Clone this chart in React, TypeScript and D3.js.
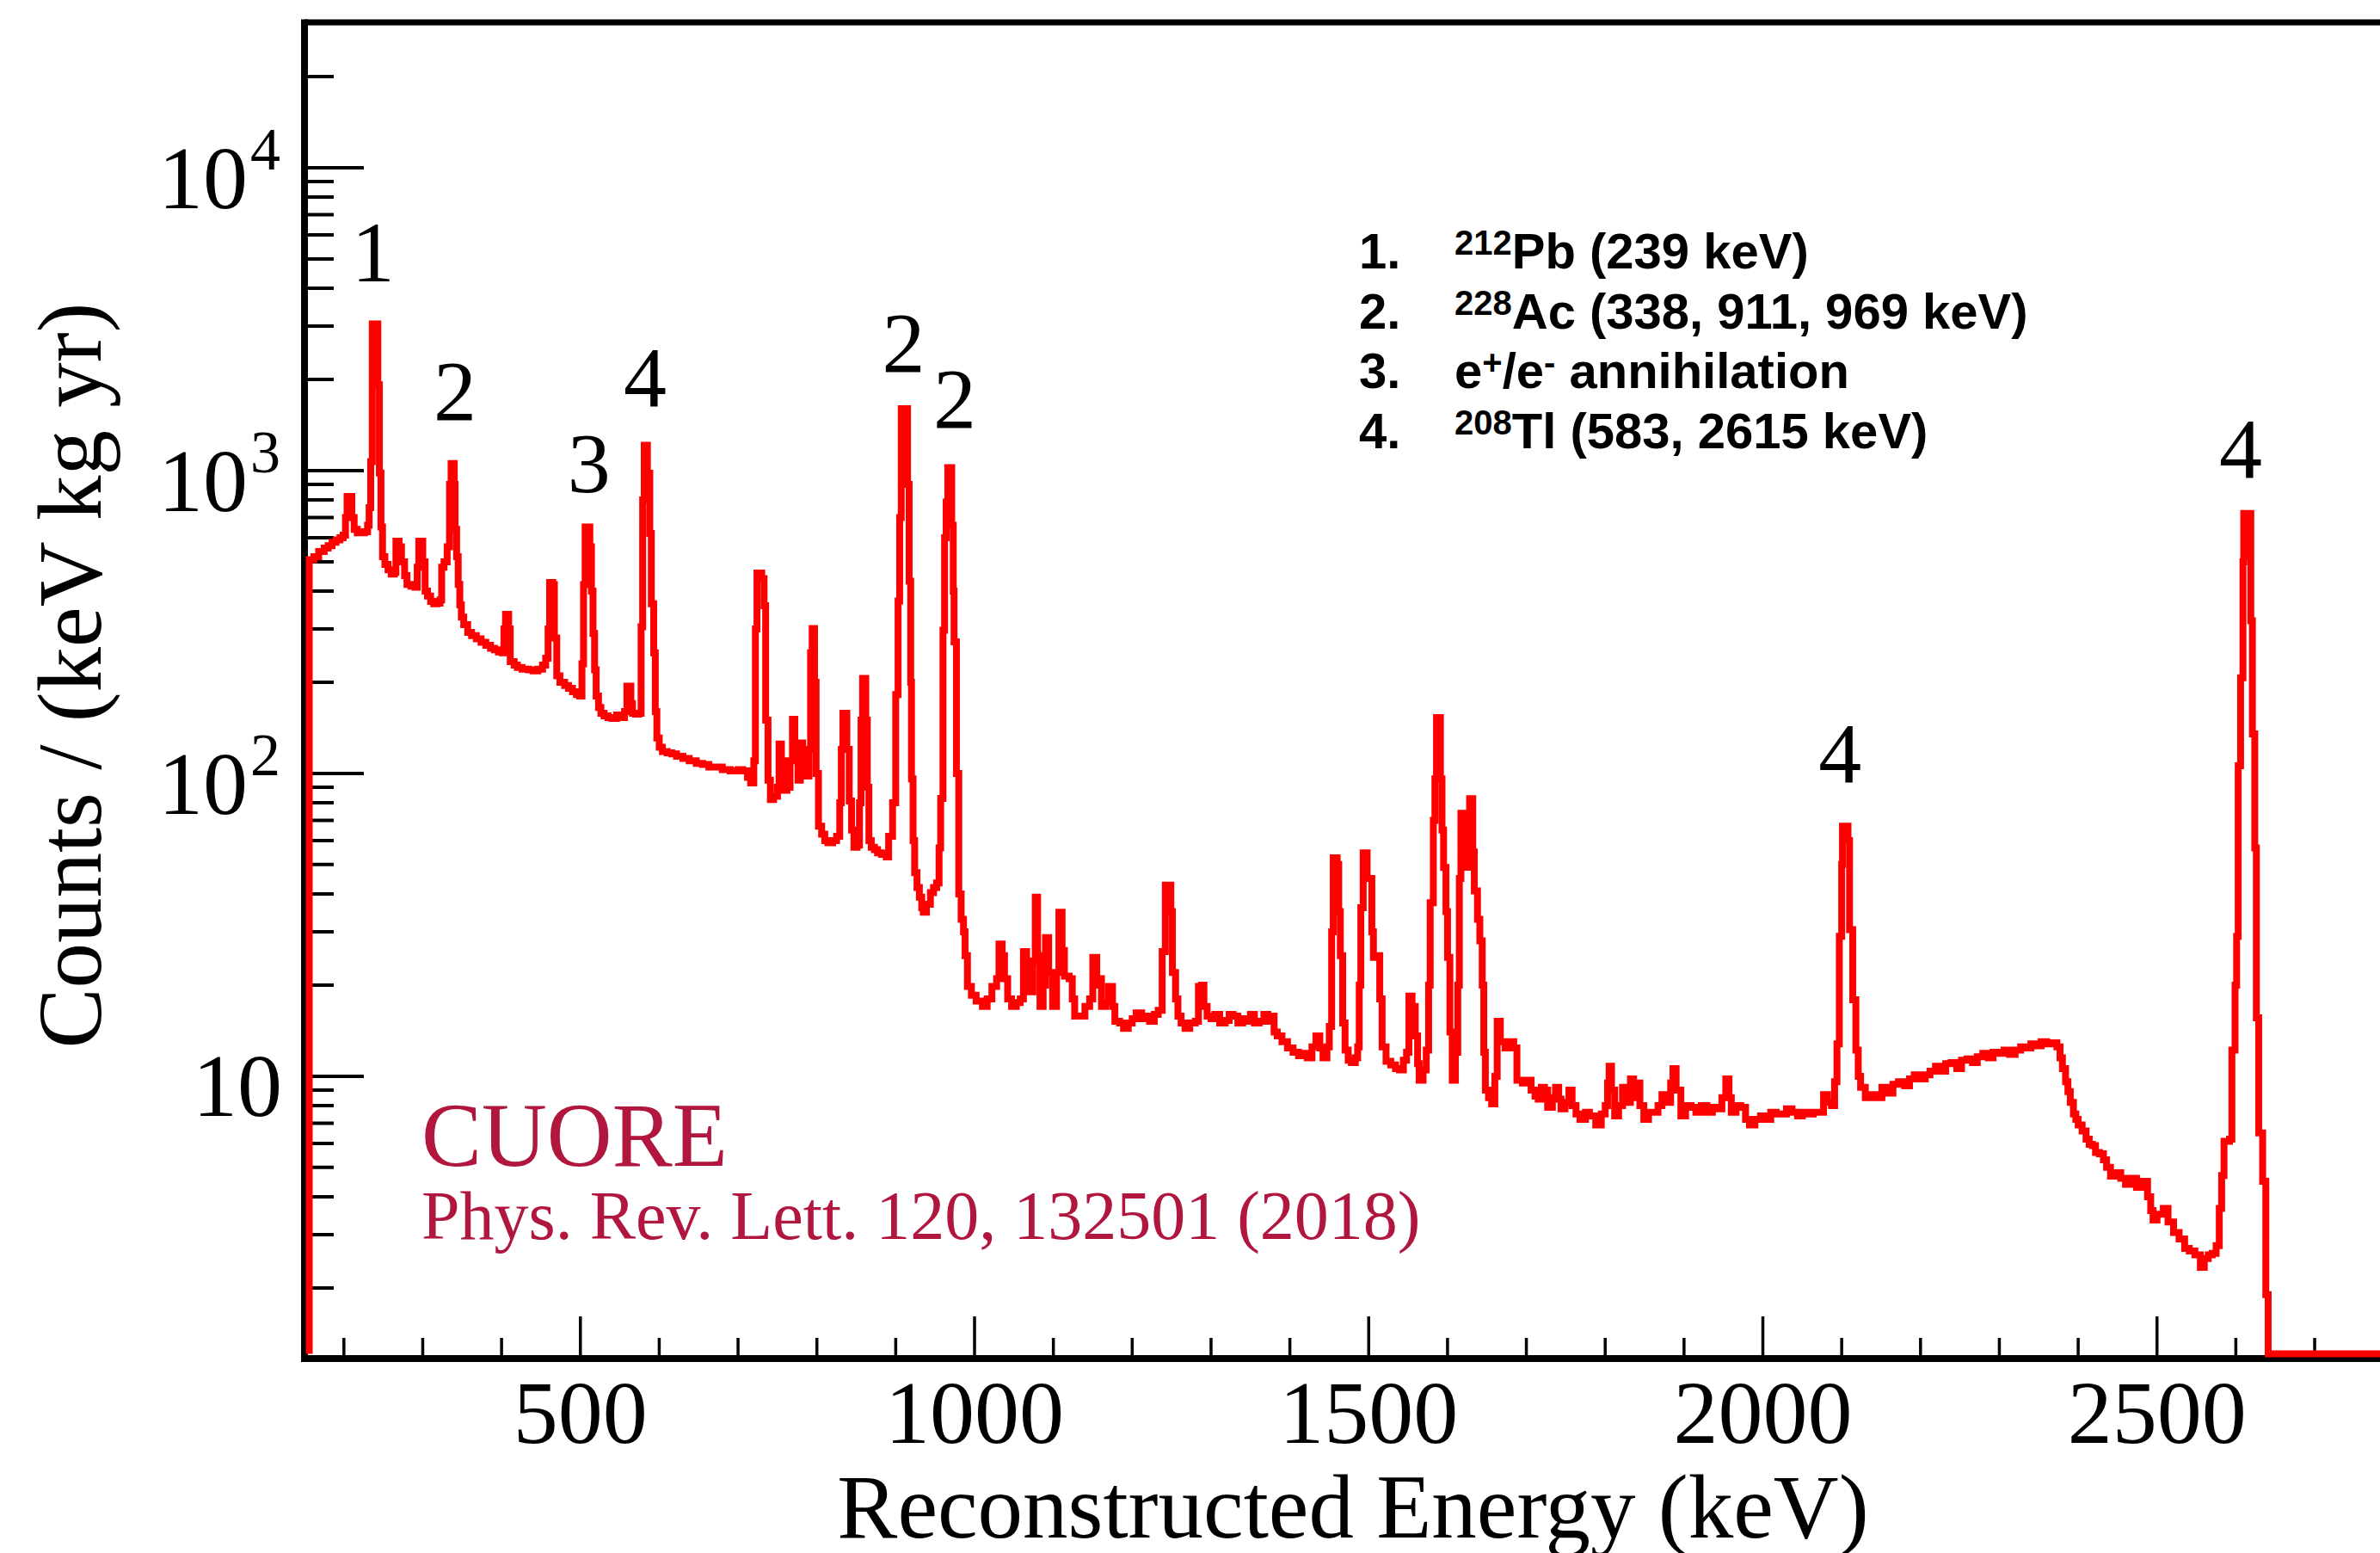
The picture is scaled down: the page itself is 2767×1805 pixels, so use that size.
import React from 'react';
import * as d3 from 'd3';

// Spectrum: bin low edge (keV) and counts/(keV kg yr)
const spectrumEnergy = [
  156, 162, 168, 175, 180, 185, 190, 195, 199, 202, 204, 210, 213, 217, 226, 230, 232, 234, 236, 243, 245, 247, 249, 252, 256, 260, 264, 266, 270, 273, 277, 280, 285, 290, 293, 295, 300, 303, 306, 310, 314, 318, 322, 324, 327, 331, 334, 336, 340, 341, 343, 345, 347, 349, 352, 357, 362, 368, 374, 380, 386, 391, 396, 401, 403, 405, 409, 411, 416, 420, 426, 434, 440, 446, 452, 456, 459, 461, 465, 467, 470, 474, 480, 485, 490, 495, 499, 502, 504, 506, 512, 514, 516, 518, 520, 523, 526, 530, 535, 540, 546, 552, 556, 559, 564, 566, 570, 574, 577, 579, 581, 585, 588, 590, 593, 595, 597, 600, 604, 610, 616, 622, 630, 638, 647, 655, 663, 670, 680, 690, 700, 706, 712, 716, 720, 722, 724, 730, 733, 735, 738, 741, 745, 750, 752, 755, 758, 762, 766, 769, 772, 776, 779, 782, 786, 790, 792, 794, 797, 799, 802, 806, 810, 814, 820, 825, 829, 831, 833, 838, 841, 844, 847, 851, 854, 856, 858, 862, 864, 866, 869, 873, 877, 882, 888, 891, 896, 900, 903, 905, 907, 915, 917, 919, 920, 922, 924, 927, 930, 933, 935, 939, 944, 948, 952, 955, 957, 960, 962, 964, 966, 971, 973, 974, 977, 980, 983, 986, 988, 991, 996,
  1002, 1010, 1016, 1022, 1028, 1031, 1035, 1038, 1042, 1047, 1053, 1058, 1062, 1066, 1070, 1074, 1077, 1080, 1083, 1087, 1090, 1094, 1099, 1104, 1107, 1111, 1114, 1120, 1124, 1127, 1134, 1140, 1146, 1150, 1155, 1158, 1161, 1166, 1170, 1175, 1178, 1184, 1189, 1195, 1200, 1205, 1212, 1217, 1222, 1228, 1233, 1238, 1242, 1249, 1251, 1255, 1258, 1262, 1267, 1273, 1280, 1284, 1288, 1291, 1295, 1300, 1305, 1311, 1318, 1323, 1328, 1334, 1340, 1345, 1350, 1355, 1361, 1367, 1372, 1375, 1380, 1384, 1390, 1397, 1404, 1411, 1417, 1422, 1428, 1433, 1438, 1442, 1447, 1450, 1453, 1455, 1460, 1462, 1464, 1467, 1470, 1474, 1478, 1483, 1486, 1488, 1490, 1493, 1498, 1501, 1504, 1506, 1511, 1514, 1517, 1522, 1528, 1534, 1539, 1544, 1548, 1551, 1555, 1559, 1562, 1564, 1569, 1573, 1576, 1578, 1582, 1584, 1586, 1591, 1593, 1595, 1598, 1600, 1603, 1606, 1610, 1613, 1615, 1617, 1621, 1623, 1626, 1628, 1632, 1634, 1638, 1641, 1644, 1646, 1648, 1652, 1656, 1660, 1663, 1667, 1673, 1679, 1684, 1688, 1695, 1701, 1706, 1711, 1715, 1719, 1723,
  1727, 1733, 1737, 1741, 1744, 1749, 1754, 1758, 1763, 1768, 1775, 1780, 1788, 1795, 1800, 1803, 1805, 1808, 1812, 1817, 1822, 1826, 1832, 1836, 1840, 1844, 1849, 1855, 1862, 1867, 1872, 1878, 1883, 1886, 1890, 1896, 1902, 1909, 1915, 1922, 1929, 1936, 1942, 1948, 1953, 1957, 1960, 1966, 1972, 1978, 1983, 1990, 1997, 2004, 2010, 2017, 2024, 2030, 2037, 2044, 2050, 2057, 2064, 2071, 2077, 2082, 2087, 2091, 2094, 2097, 2100, 2101, 2108, 2110, 2114, 2118, 2121, 2124, 2130, 2138, 2144, 2151, 2158, 2165, 2172, 2180, 2186, 2192, 2200, 2206, 2212, 2219, 2226, 2232, 2239, 2246, 2252, 2259, 2266, 2272, 2279, 2286, 2292, 2299, 2306, 2313, 2320, 2327, 2333, 2340, 2347, 2353, 2360, 2367, 2373, 2377, 2380, 2384, 2387, 2390, 2394, 2397, 2400, 2405, 2410, 2414, 2418, 2422, 2427, 2432, 2436, 2441, 2447, 2454, 2460, 2468, 2474, 2481, 2488, 2492, 2495, 2500, 2508, 2514, 2521, 2528, 2535, 2541, 2548, 2555, 2560, 2565, 2570, 2575, 2579, 2582, 2585, 2592, 2595, 2599, 2601, 2603, 2606, 2609, 2610, 2614, 2616, 2619, 2621, 2624, 2626, 2629, 2634, 2638, 2641, 2800,
];
const spectrumCounts = [
  508, 520, 540, 555, 565, 580, 590, 600, 612, 700, 822, 700, 640, 623, 628, 660, 755, 1070, 3050, 1920, 982, 651, 520, 490, 470, 455, 462, 585, 560, 500, 450, 421, 415, 412, 480, 585, 500, 400, 385, 370, 363, 365, 374, 480, 500, 560, 900, 1055, 900, 640, 520, 421, 360, 328, 310, 292, 285, 278, 271, 265, 259, 256, 252, 250, 300, 335, 300, 234, 228, 224, 221, 220, 218, 221, 228, 240, 300, 427, 420, 280, 210, 200, 195, 191, 186, 182, 180, 230, 420, 651, 560, 400, 290, 220, 180, 165, 158, 155, 153, 152, 156, 153, 160, 194, 170, 158, 157, 158, 305, 800, 1213, 980, 620, 363, 250, 160, 131, 122, 118, 117, 116, 114, 112, 110, 108, 107, 105, 105, 103, 102, 103, 102, 97, 93, 110, 300, 459, 440, 358, 150, 95, 82, 84, 90, 125, 110, 88, 90, 110, 151, 110, 95, 126, 105, 98, 120, 250, 301, 200, 100, 67, 63, 60, 59, 60, 62, 80, 120, 158, 120, 81, 65, 57, 58, 80, 150, 206, 150, 90, 60, 57, 56, 54.7, 54, 53, 62, 80, 182, 371, 700, 1600, 900, 431, 200, 96, 60, 47, 42, 39, 36, 34.8, 37, 40.4, 42, 43.5, 56.8, 82.7, 297, 600, 787, 1023, 660, 400, 272, 100, 40, 33, 30, 25, 19.8, 18.5,
  17.7, 17, 18, 19.8, 21, 27.3, 25, 21, 18, 17, 17.5, 18, 25.8, 20, 19, 24, 39, 25, 17, 20, 28.7, 22, 17, 22, 34.8, 26, 21.4, 21, 18, 15.8, 15.8, 17, 18, 24.7, 20, 21, 17, 17.5, 19.8, 17, 15.2, 15, 14.4, 15, 15.5, 16.2, 15.5, 15.8, 15.2, 16, 16.5, 25.8, 42.8, 35, 22, 18, 15.8, 15, 14.4, 15, 15.2, 19.8, 20, 17, 15.8, 15.5, 16, 15, 15.3, 16, 15.8, 15, 15.5, 15.2, 16, 15, 15.2, 16, 15.2, 15.8, 14, 13.6, 13, 12.4, 12, 11.7, 11.9, 11.5, 12.5, 13.6, 12.4, 11.5, 12.5, 14.6, 30, 52.6, 50, 35, 25, 15, 12.2, 11.3, 11.1, 11.5, 12.5, 20, 36, 54.7, 45, 45, 30, 24.7, 25, 18, 12.5, 11.2, 10.9, 10.6, 10.5, 11.3, 12, 18.4, 17, 13.6, 11, 9.7, 10.5, 12.2, 20, 37.4, 70, 96, 153, 96, 65, 48.9, 35, 24.7, 14, 9.7, 12, 20, 45, 73.8, 55, 49, 70, 82.6, 55, 40.9, 33, 28, 20, 12, 9, 8.5, 8.1, 10, 15.2, 13, 12.4, 13, 12.4, 9.7, 9.5, 9.7, 9, 8.6, 8.4, 9.2, 9,
  7.9, 8.5, 9.2, 8.4, 7.8, 8.2, 9.0, 8, 7.5, 7.2, 7.6, 7.4, 6.9, 7.5, 8, 9.5, 10.8, 9, 7.4, 8, 9.2, 8.2, 9.8, 8.5, 9.5, 8, 7.2, 7.6, 7.6, 8, 8.7, 8.2, 9.5, 10.6, 9, 7.4, 8, 7.9, 7.6, 8, 7.6, 7.9, 7.8, 8.5, 9.8, 8.5, 7.6, 8, 7.9, 7.2, 6.9, 7.2, 7.4, 7.2, 7.6, 7.5, 7.5, 7.8, 7.6, 7.4, 7.6, 7.5, 7.6, 7.6, 8.7, 8.2, 8, 9.6, 12.8, 29, 50, 67, 60, 30.5, 17.9, 12.2, 10, 9.2, 8.5, 8.7, 8.5, 9.2, 8.8, 9.4, 9.6, 9.3, 9.8, 10.1, 9.8, 10.1, 10.4, 10.8, 10.4, 11, 11.1, 10.6, 11.3, 11.4, 11.1, 11.6, 11.9, 11.5, 12, 11.9, 12.2, 11.8, 12.2, 12.5, 12.4, 12.8, 12.6, 13, 12.8, 12.9, 12.5, 11.5, 10.6, 9.6, 8.9, 8.2, 7.5, 7.2, 6.9, 6.6, 6.2, 5.96, 5.9, 5.6, 5.55, 5.3, 5.0, 4.68, 4.8, 4.6, 4.4, 4.6, 4.3, 4.5, 4.0, 3.6, 3.35, 3.5, 3.66, 3.3, 3.05, 2.9, 2.7, 2.65, 2.57, 2.34, 2.5, 2.57, 2.6, 2.76, 3.66, 4.7, 6.1, 6.2, 12.2, 20, 29, 106, 207, 500, 722, 520, 722, 319, 135, 56.8, 15.6, 6.5, 4.5, 1.9, 0, 0,
];

const xMajorTicks = [500, 1000, 1500, 2000, 2500];
const yDecadeTicks = [10, 100, 1000, 10000];
const yDecadeExponent = ['', '2', '3', '4'];

const peakLabelText = ['1', '2', '3', '4', '2', '2', '4', '4'];
const peakLabelEnergy = [237, 341, 511, 582, 910, 975, 2098, 2606];
const peakLabelCounts = [4217, 1472, 849, 1633, 2123, 1387, 93.8, 948];

const legendNumber = ['1.', '2.', '3.', '4.'];
const legendParts: { t: string; sup?: boolean }[][] = [
  [{ t: '212', sup: true }, { t: 'Pb (239 keV)' }],
  [{ t: '228', sup: true }, { t: 'Ac (338, 911, 969 keV)' }],
  [{ t: 'e' }, { t: '+', sup: true }, { t: '/e' }, { t: '-', sup: true }, { t: ' annihilation' }],
  [{ t: '208', sup: true }, { t: 'Tl (583, 2615 keV)' }],
];

const SERIF = "'Liberation Serif', 'Times New Roman', Times, serif";
const SANS = "'Liberation Sans', Arial, Helvetica, sans-serif";
const CUORE_COLOR = '#b0163e';

export default function App() {
  const W = 2767;
  const H = 1805;
  const x = d3.scaleLinear().domain([150, 2800]).range([354, 2782.7]);
  const y = d3.scaleLog().domain([1.2, 30200]).range([1575, 26]);
  const floorY = 1573.5;

  const pts: [number, number][] = [[spectrumEnergy[0], 0]];
  spectrumEnergy.forEach((e, i) => pts.push([e, spectrumCounts[i]]));
  const line = d3
    .line<[number, number]>()
    .x((d) => x(d[0]))
    .y((d) => (d[1] > 0 ? Math.min(y(d[1]), floorY) : floorY))
    .curve(d3.curveStepAfter);

  const xMinor: number[] = [];
  for (let e = 200; e <= 2700; e += 100) if (e % 500 !== 0) xMinor.push(e);
  const yMinor: number[] = [];
  [1, 10, 100, 1000, 10000].forEach((dec) => {
    for (let m = 2; m <= 9; m++) {
      const v = m * dec;
      if (v > 1.2 && v < 30200 && y(v) > 32) yMinor.push(v);
    }
  });

  const axisX = 354;
  const axisY = 1579;

  return (
    <svg
      width={W}
      height={H}
      viewBox={`0 0 ${W} ${H}`}
      style={{ position: 'absolute', left: 0, top: 0, background: '#fff', display: 'block' }}
    >
      <rect x={0} y={0} width={W} height={H} fill="#fff" />
      {/* y ticks */}
      {yDecadeTicks.map((v) => (
        <line key={'ym' + v} x1={axisX} x2={423} y1={y(v)} y2={y(v)} stroke="#000" strokeWidth={4} />
      ))}
      {yMinor.map((v) => (
        <line key={'yn' + v} x1={axisX} x2={388} y1={y(v)} y2={y(v)} stroke="#000" strokeWidth={4} />
      ))}
      {/* x ticks */}
      {xMajorTicks.map((e) => (
        <line key={'xm' + e} x1={x(e)} x2={x(e)} y1={1530} y2={axisY} stroke="#000" strokeWidth={3.5} />
      ))}
      {xMinor.map((e) => (
        <line key={'xn' + e} x1={x(e)} x2={x(e)} y1={1555} y2={axisY} stroke="#000" strokeWidth={3.5} />
      ))}
      {/* frame */}
      <line x1={axisX} x2={W + 10} y1={26} y2={26} stroke="#000" strokeWidth={7} />
      <line x1={axisX} x2={axisX} y1={22.5} y2={1583} stroke="#000" strokeWidth={8} />
      <line x1={350} x2={W + 10} y1={axisY} y2={axisY} stroke="#000" strokeWidth={8} />

      {/* spectrum */}
      <path
        d={line(pts) || ''}
        fill="none"
        stroke="#ff0000"
        strokeWidth={8}
        strokeLinejoin="miter"
        strokeMiterlimit={2}
      />

      {/* y tick labels */}
      {yDecadeTicks.map((v, i) =>
        yDecadeExponent[i] ? (
          <g key={'yl' + v} fontFamily={SERIF} fill="#000">
            <text x={288} y={y(v) + 47} fontSize={104} textAnchor="end">
              10
            </text>
            <text x={291} y={y(v) + 2} fontSize={70}>
              {yDecadeExponent[i]}
            </text>
          </g>
        ) : (
          <text key={'yl' + v} x={328} y={y(v) + 46} fontSize={104} textAnchor="end" fontFamily={SERIF}>
            10
          </text>
        )
      )}
      {/* x tick labels */}
      {xMajorTicks.map((e) => (
        <text key={'xl' + e} x={x(e)} y={1677} fontSize={104} textAnchor="middle" fontFamily={SERIF}>
          {e}
        </text>
      ))}
      {/* axis titles */}
      <text x={1573} y={1787} fontSize={105} textAnchor="middle" fontFamily={SERIF}>
        Reconstructed Energy (keV)
      </text>
      <text
        transform="translate(117,785) rotate(-90)"
        fontSize={105}
        textAnchor="middle"
        fontFamily={SERIF}
      >
        Counts / (keV kg yr)
      </text>

      {/* peak labels */}
      {peakLabelText.map((t, i) => (
        <text
          key={'pl' + i}
          x={x(peakLabelEnergy[i])}
          y={y(peakLabelCounts[i])}
          fontSize={100}
          textAnchor="middle"
          fontFamily={SERIF}
        >
          {t}
        </text>
      ))}

      {/* legend */}
      {legendNumber.map((n, i) => {
        const by = 312 + i * 69.7;
        return (
          <g key={'lg' + i} fontFamily={SANS} fontWeight="bold" fill="#000">
            <text x={1580} y={by} fontSize={58}>
              {n}
            </text>
            <text x={1691} y={by} fontSize={58}>
              {legendParts[i].map((p, j) => (
                <tspan
                  key={j}
                  fontSize={p.sup ? 40 : 58}
                  dy={p.sup ? -16 : j > 0 && legendParts[i][j - 1].sup ? 16 : 0}
                >
                  {p.t}
                </tspan>
              ))}
            </text>
          </g>
        );
      })}

      {/* CUORE stamp */}
      <text x={490} y={1355} fontSize={105} fontFamily={SERIF} fill={CUORE_COLOR}>
        CUORE
      </text>
      <text x={490} y={1440} fontSize={80} fontFamily={SERIF} fill={CUORE_COLOR}>
        Phys. Rev. Lett. 120, 132501 (2018)
      </text>
    </svg>
  );
}
